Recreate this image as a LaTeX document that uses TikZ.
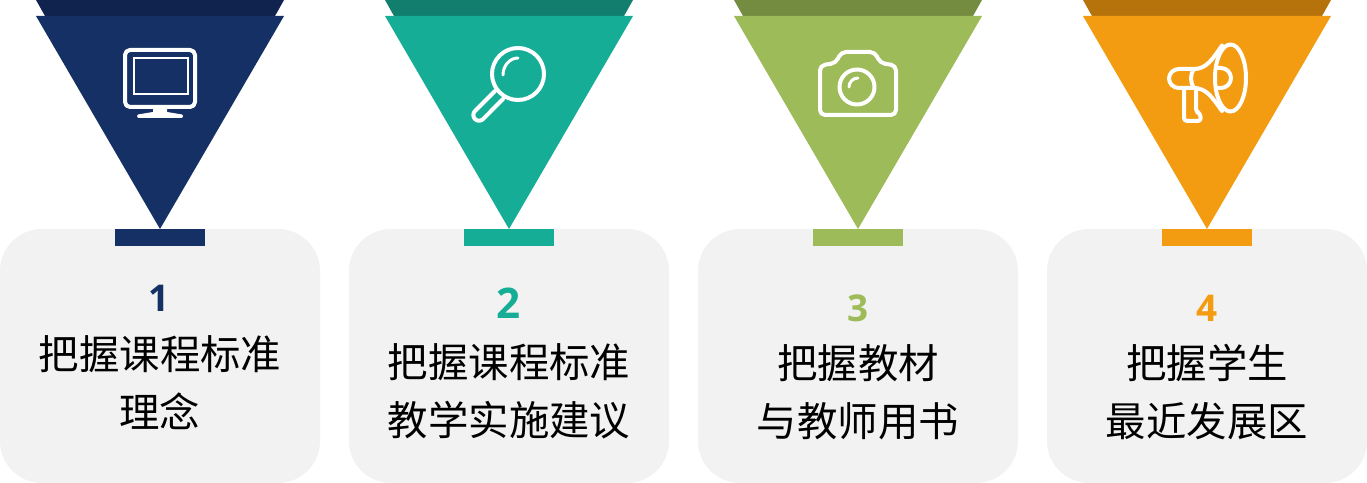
\documentclass[tikz,border=0pt]{standalone}
\usepackage{fontspec}
\setmainfont{Open Sans}
\newfontfamily\cjkfont{Noto Sans CJK SC}

\definecolor{navyMain}{HTML}{143064}
\definecolor{navyDark}{HTML}{10234F}
\definecolor{tealMain}{HTML}{16AD97}
\definecolor{tealDark}{HTML}{117E6E}
\definecolor{greenMain}{HTML}{9DBB58}
\definecolor{greenDark}{HTML}{748C3F}
\definecolor{orangeMain}{HTML}{F39C12}
\definecolor{orangeDark}{HTML}{B7730B}
\definecolor{panelGray}{HTML}{F2F2F2}

\tikzset{
	panel/.style={fill=panelGray, rounded corners=0.84cm},
	caption/.style={align=center, inner sep=0pt, font=\cjkfont\fontsize{23}{33}\selectfont},
	icon/.style={draw=white, line width=4*0.02cm, line join=round, line cap=round},
	iconthin/.style={draw=white, line width=3*0.02cm, line cap=round}
}

\begin{document}
\begin{tikzpicture}[x=0.02cm, y=-0.02cm]
	\useasboundingbox (0, 0) rectangle (1367, 483);
	
	% Панели
	\fill[panel] (0, 229) rectangle (320, 483);
	\fill[panel] (349, 229) rectangle (669, 483);
	\fill[panel] (698, 229) rectangle (1018, 483);
	\fill[panel] (1047, 229) rectangle (1367, 483);
	
	% Треугольники
	\fill[navyDark] (36, 0) -- (284, 0) -- (275, 16) -- (45, 16) -- cycle;
	\fill[navyMain] (36, 16) -- (284, 16) -- (160, 229) -- cycle;
	\fill[navyMain] (115, 229) rectangle (205, 246);
	
	\fill[tealDark] (385, 0) -- (633, 0) -- (624, 16) -- (394, 16) -- cycle;
	\fill[tealMain] (385, 16) -- (633, 16) -- (509, 229) -- cycle;
	\fill[tealMain] (464, 229) rectangle (554, 246);
	
	\fill[greenDark] (734, 0) -- (982, 0) -- (973, 16) -- (743, 16) -- cycle;
	\fill[greenMain] (734, 16) -- (982, 16) -- (858, 229) -- cycle;
	\fill[greenMain] (813, 229) rectangle (903, 246);
	
	\fill[orangeDark] (1083, 0) -- (1331, 0) -- (1322, 16) -- (1092, 16) -- cycle;
	\fill[orangeMain] (1083, 16) -- (1331, 16) -- (1207, 229) -- cycle;
	\fill[orangeMain] (1162, 229) rectangle (1252, 246);
	
	% Монитор
	\draw[icon, rounded corners=0.1cm] (125, 50) rectangle (195, 107);
	\draw[draw=white, line width=2*0.02cm] (133.5, 58.5) rectangle (187.5, 94.5);
	\fill[white] (153, 107) -- (167, 107) -- (167, 112) -- (182, 114.5) -- (183, 116) -- (182, 118) -- (138, 118) -- (137, 116) -- (138, 114.5) -- (153, 112) -- cycle;
	
	% Лупа
	\draw[icon] (518, 74) circle (26);
	\draw[iconthin] (503, 75) arc[start angle=180, end angle=90, x radius=15, y radius=-17];
	\draw[icon] (495, 91) -- (475, 111) arc[start angle=225, end angle=45, radius=5.7] -- (503, 99);
	
	% Камера
	\draw[icon, rounded corners=0.1cm] (836, 63) -- (820, 65.5) -- (820, 115) -- (896, 115) -- (896, 65.5) -- (880, 63) -- (875, 52) -- (841, 52) -- cycle;
	\draw[icon] (857, 87) circle (17.5);
	\draw[iconthin] (849, 87) arc[start angle=180, end angle=90, x radius=9, y radius=-9];
	
	% Рупор
	\draw[icon] (1230.5, 78) ellipse (15.5 and 33.5);
	\draw[icon] (1216, 68) -- (1221, 68) arc[start angle=90, end angle=-90, x radius=10, y radius=-10] -- (1216, 88);
	\draw[icon] (1222, 45.5) .. controls (1212, 60) and (1206, 69) .. (1194, 69) -- (1179, 69) arc[start angle=90, end angle=270, x radius=10, y radius=-9.5] -- (1194, 88) .. controls (1206, 88) and (1212, 97) .. (1222, 111);
	\draw[icon] (1194, 69) .. controls (1190, 74) and (1190, 83) .. (1194, 88);
	\draw[icon, rounded corners=0.06cm] (1184, 89) -- (1184, 121) -- (1201, 121) -- (1200, 113) -- (1196, 112) -- (1196, 90);
	
	% Подписи
	\draw (159.5, 298) node (numA) [text=navyMain, font=\bfseries\fontsize{21}{25}\selectfont] {1};
	\draw (160, 382.5) node (capA) [caption] {把握课程标准\\理念};
	
	\draw (509, 303) node (numB) [text=tealMain, font=\bfseries\fontsize{24}{28}\selectfont] {2};
	\draw (509, 391) node (capB) [caption] {把握课程标准\\教学实施建议};
	
	\draw (858, 308) node (numC) [text=greenMain, font=\bfseries\fontsize{21}{25}\selectfont] {3};
	\draw (858, 392) node (capC) [caption] {把握教材\\与教师用书};
	
	\draw (1207, 308) node (numD) [text=orangeMain, font=\bfseries\fontsize{21}{25}\selectfont] {4};
	\draw (1207, 392) node (capD) [caption] {把握学生\\最近发展区};
\end{tikzpicture}
\end{document}
